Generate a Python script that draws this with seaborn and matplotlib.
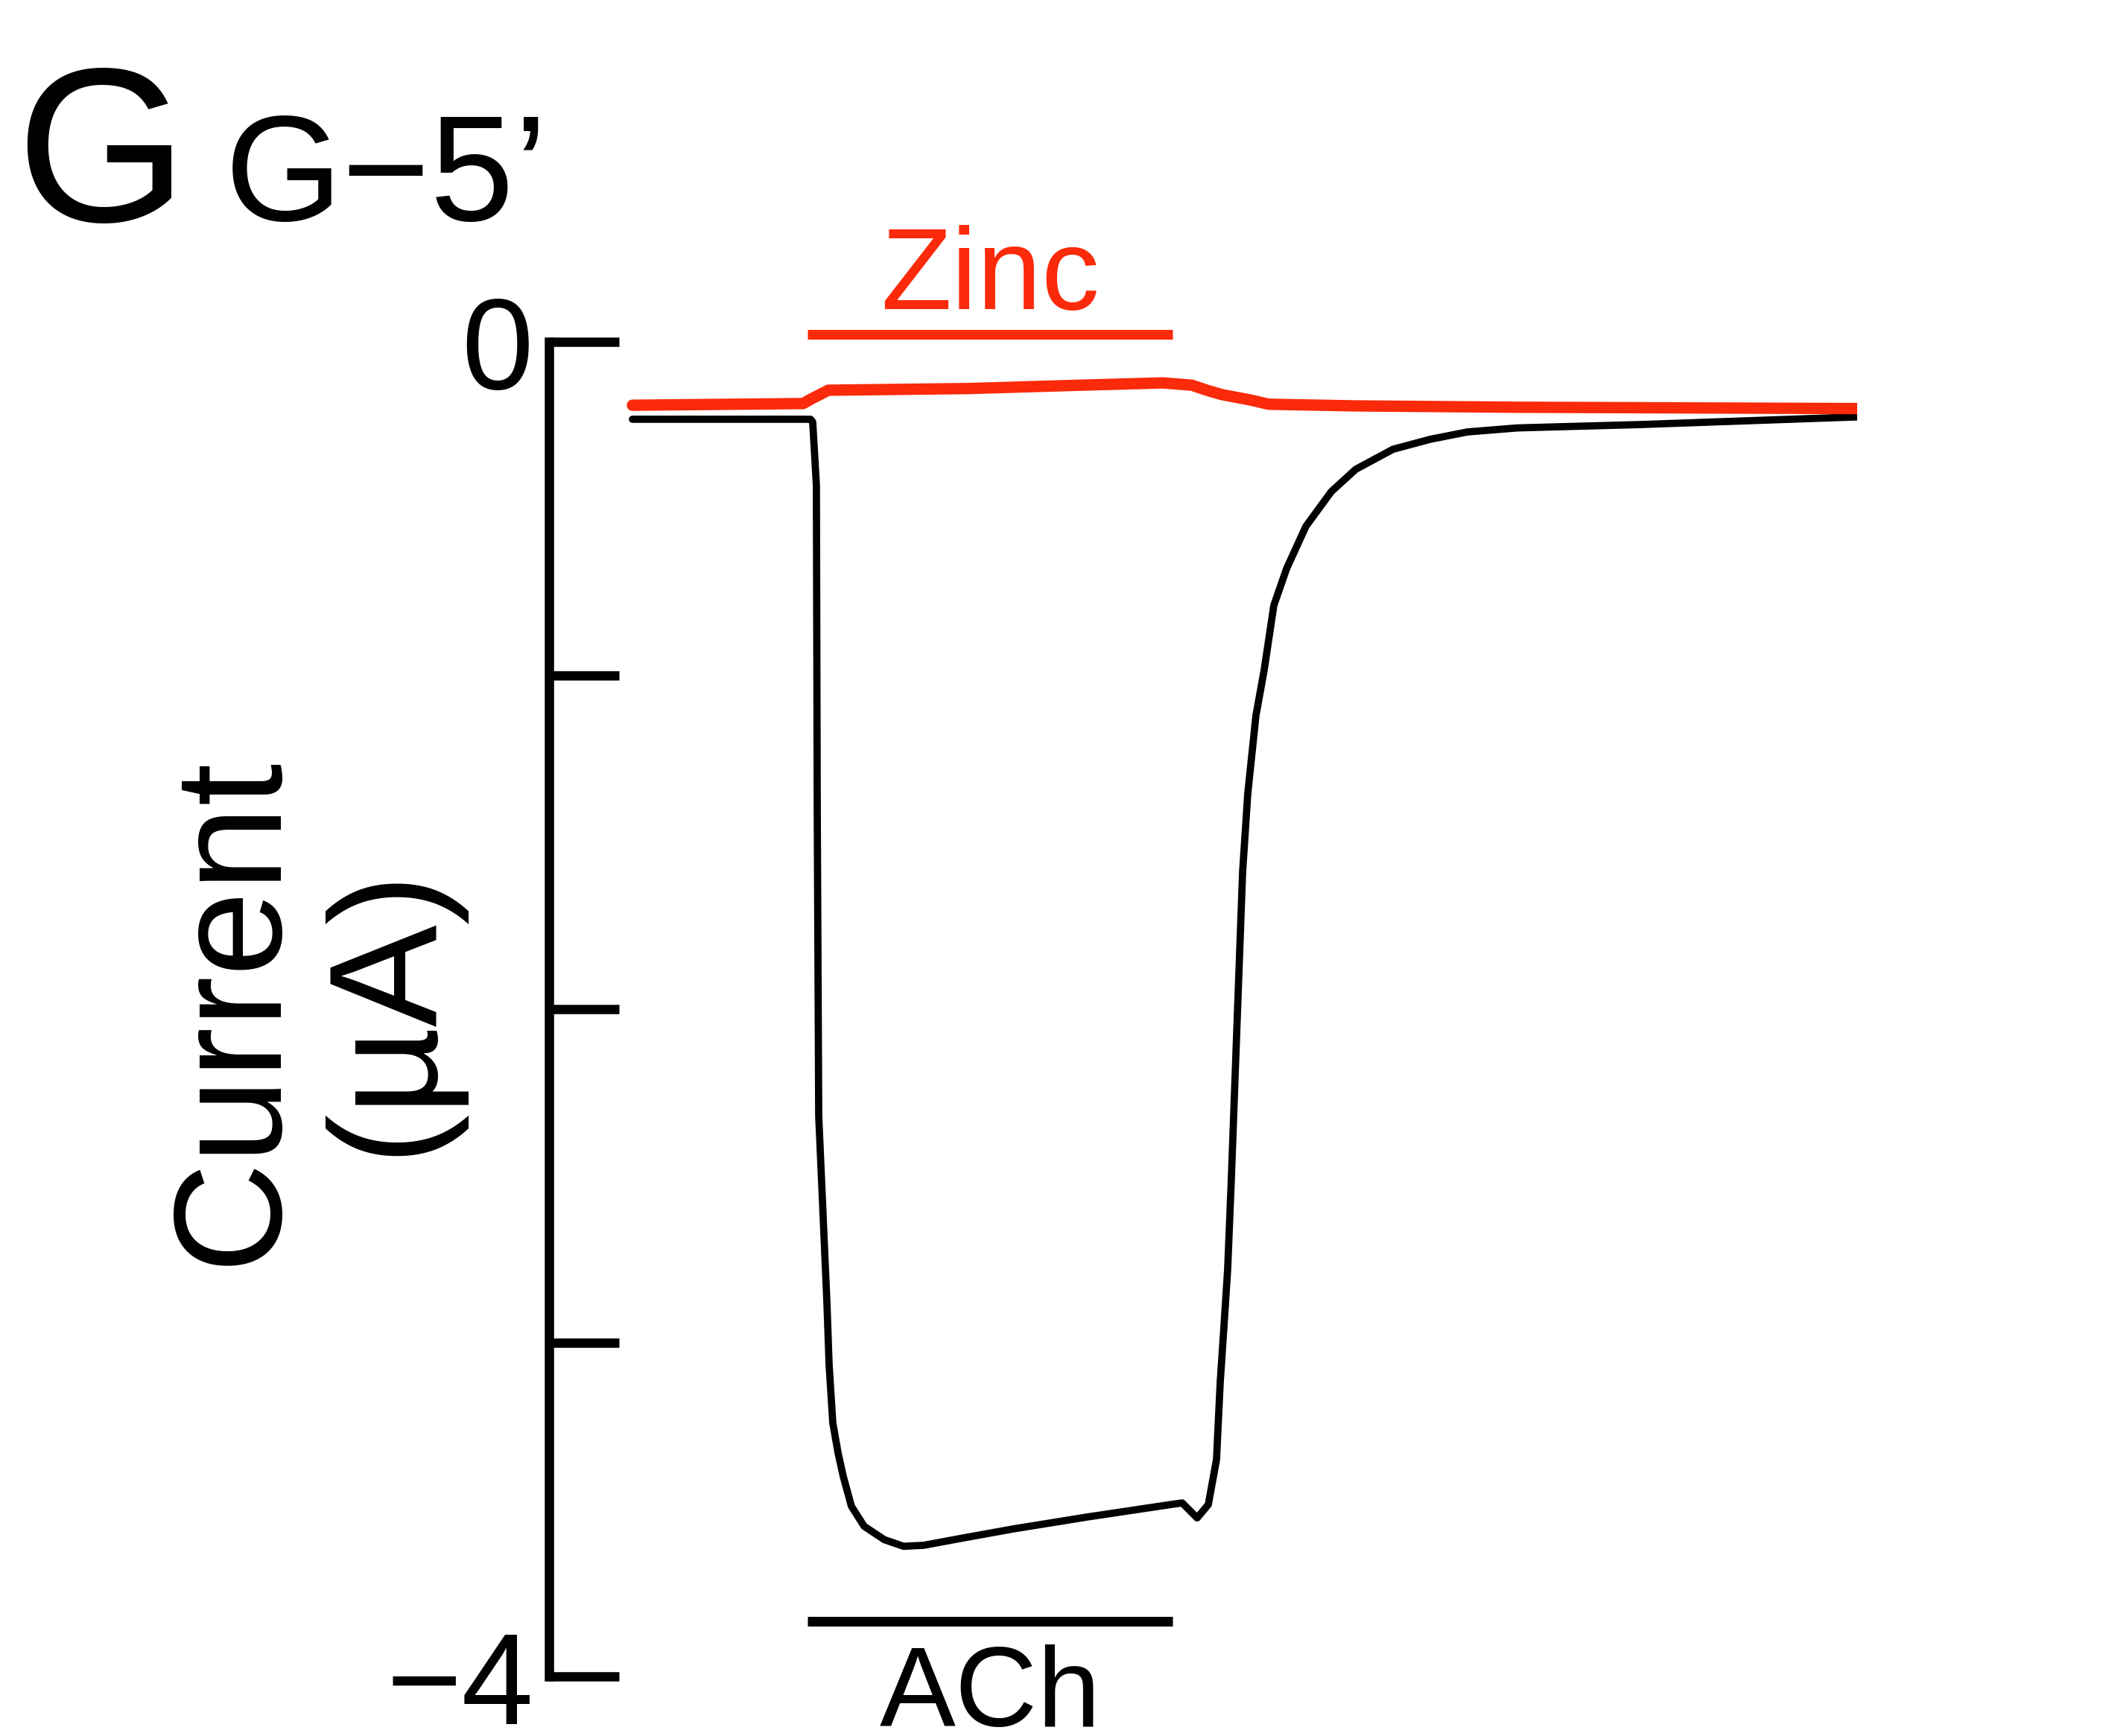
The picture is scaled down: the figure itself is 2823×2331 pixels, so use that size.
import matplotlib
matplotlib.use('Agg')
import matplotlib.pyplot as plt
import numpy as np
import seaborn as sns

# traces (time in s, current in uA)
ach_time = [0.0, 14.54, 14.72, 15.02, 15.09, 15.21, 15.57, 15.88, 16.06, 16.36,
            16.79, 17.21, 17.88, 18.92, 20.56, 22.14, 23.78, 27.01, 31.08, 37.17,
            43.92, 44.89, 46.11, 47.02, 47.69, 47.99, 48.30, 48.60, 48.91, 49.09,
            49.51, 49.82, 50.24, 50.91, 51.58, 52.37, 53.41, 54.99, 57.06, 59.06,
            62.10, 65.15, 68.19, 72.26, 82.24, 100.0]
ach_current = [-0.232, -0.232, -0.24, -0.43, -1.40, -2.32, -2.62, -2.88, -3.067, -3.24,
               -3.33, -3.40, -3.49, -3.55, -3.59, -3.61, -3.607, -3.585, -3.558, -3.522,
               -3.485, -3.48, -3.525, -3.485, -3.35, -3.12, -2.95, -2.78, -2.50, -2.32,
               -1.90, -1.59, -1.355, -1.12, -0.984, -0.79, -0.68, -0.553, -0.449, -0.382,
               -0.322, -0.292, -0.270, -0.258, -0.248, -0.225]

zinc_time = [0.0, 13.93, 14.66, 16.0, 27.43, 36.56, 43.31, 45.68, 46.90, 48.11,
             50.55, 51.95, 59.06, 72.26, 100.0]
zinc_current = [-0.19, -0.185, -0.17, -0.145, -0.14, -0.13, -0.123, -0.13, -0.145, -0.158,
                -0.175, -0.187, -0.192, -0.196, -0.20]

zinc_window = [14.3, 44.1]
ach_window = [14.3, 44.1]

red = '#fa2a0a'

sns.set_style("ticks", {'axes.edgecolor': 'black', 'text.color': 'black',
                        'ytick.color': 'black', 'xtick.color': 'black'})
plt.rcParams['font.family'] = ['Liberation Sans', 'DejaVu Sans']

fig = plt.figure(figsize=(28.23, 23.31), dpi=100)
ax = fig.add_axes([0.26107, 0.03432, 0.62203, 0.76877])

sns.lineplot(x=ach_time, y=ach_current, color='black', lw=7, estimator=None, ax=ax)
sns.lineplot(x=zinc_time, y=zinc_current, color=red, lw=11, estimator=None, ax=ax)

# application bars
ax.plot(zinc_window, [0.022, 0.022], color=red, lw=9.4, solid_capstyle='butt', clip_on=False)
ax.plot(ach_window, [-3.835, -3.835], color='black', lw=9.4, solid_capstyle='butt', clip_on=False)
ax.text(np.mean(zinc_window), 0.098, 'Zinc', color=red, fontsize=112, ha='center', va='baseline')
ax.text(np.mean(ach_window), -4.15, 'ACh', fontsize=110, ha='center', va='baseline')

ax.set_xlim(-6.81, 100)
ax.set_ylim(-4, 0)
ax.set_xticks([])
ax.set_yticks([0, -1, -2, -3, -4])
ax.set_yticklabels(['0', '', '', '', '\u22124'])
ax.tick_params(axis='y', direction='in', length=68, width=9, pad=15, labelsize=125)
for s in ['top', 'right', 'bottom']:
    ax.spines[s].set_visible(False)
ax.spines['left'].set_linewidth(9)
ax.spines['left'].set_bounds(-4, 0)
ax.spines['left'].set_capstyle('projecting')
ax.set_xlabel('')
ax.set_ylabel('')

fig.text(0.0074, 0.8726, 'G', fontsize=213, va='baseline')
fig.text(0.107, 0.873, 'G\u22125\u2019', fontsize=146, va='baseline')
fig.text(0.148, 0.4183, 'Current\n(\u00b5A)', rotation=90, ha='center', va='center',
         fontsize=148, linespacing=1.1, multialignment='center')

fig.savefig('out.png', dpi=100)
